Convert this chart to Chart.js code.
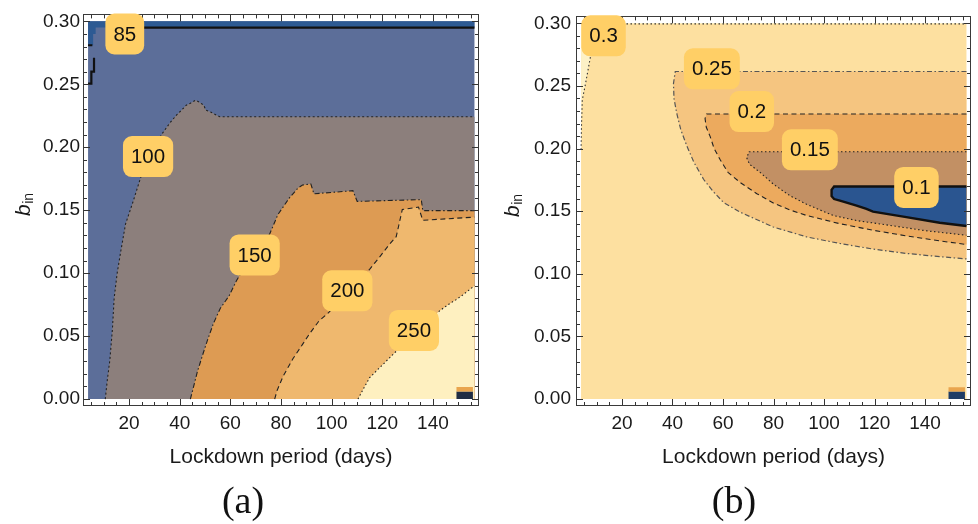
<!DOCTYPE html>
<html>
<head>
<meta charset="utf-8">
<script src="https://cdn.jsdelivr.net/npm/chart.js@4.4.1/dist/chart.umd.min.js"></script>
<style>
  body { margin: 0; background: #fff; }
  #wrap { position: relative; width: 978px; height: 524px; overflow: hidden; }
  canvas { position: absolute; top: 0; }
  .cap { position: absolute; top: 478px; width: 120px; height: 46px; line-height: 46px;
         text-align: center; font: 38px 'Liberation Serif', serif; color: #111; }
</style>
</head>
<body>
<div id="wrap">
  <canvas id="chartA" width="489" height="524" style="left:0"></canvas>
  <canvas id="chartB" width="489" height="524" style="left:489px"></canvas>
  <div class="cap" style="left:183px">(a)</div>
  <div class="cap" style="left:674px">(b)</div>
</div>
<script>
// axes shared by both panels
const xTicks = [20, 40, 60, 80, 100, 120, 140];
const yTicks = [0, 0.05, 0.10, 0.15, 0.20, 0.25, 0.30];
const xDomain = [3.8, 156.4];   // days covered by the grid
const yDomain = [0, 0.30];      // b_in covered by the grid

// tiny unlabelled patch in the bottom right corner of both panels
const cornerDarkX = [149.3, 155.8, 155.8, 149.3];
const cornerDarkY = [0, 0, 0.006, 0.006];
const cornerOrangeX = [149.3, 155.8, 155.8, 149.3];
const cornerOrangeY = [0.006, 0.006, 0.0095, 0.0095];

// (a) contour levels
const a85RegionX = [3.8, 156.4, 156.4, 6.8, 6.8, 5.8, 5.8, 3.8];
const a85RegionY = [0.30, 0.30, 0.295, 0.295, 0.29, 0.29, 0.281, 0.281];
const a85LineX = [12, 156.4];
const a85LineY = [0.295, 0.295];
const a85StepX = [3.8, 5.5, null, 6.15, 6.15, 5.1, 5.1, 3.8];
const a85StepY = [0.281, 0.281, null, 0.271, 0.26, 0.26, 0.2505, 0.2505];
const a100X = [10.6, 11.4, 12.4, 13.4, 14.1, 15.3, 16.6, 18.6, 21.6, 24.9, 28, 31, 32.8, 36, 38.7, 40.5, 42.6, 44.2, 46.3, 47.6, 49.5, 50.3, 52.2, 54.5, 55.8, 156.4];
const a100Y = [0, 0.015, 0.031, 0.055, 0.08, 0.10, 0.116, 0.139, 0.157, 0.178, 0.19, 0.203, 0.21, 0.219, 0.2255, 0.229, 0.2334, 0.235, 0.2374, 0.236, 0.2334, 0.2295, 0.228, 0.2255, 0.2242, 0.2242];
const a150X = [44.2, 45.5, 47, 49.2, 51, 53.3, 56, 59.5, 62.4, 64.5, 67.5, 71, 75.5, 78.8, 83.4, 86.7, 88.5, 91.8, 93, 108.4, 110.1, 135.4, 136, 156.4];
const a150Y = [0, 0.01, 0.022, 0.036, 0.047, 0.06, 0.072, 0.082, 0.094, 0.101, 0.11, 0.12, 0.131, 0.1466, 0.16, 0.1676, 0.170, 0.1708, 0.163, 0.1655, 0.157, 0.1584, 0.1497, 0.1497];
const a200X = [77.5, 78.5, 80.8, 84.7, 88.7, 91.3, 95, 99, 107, 115, 119, 122.9, 125.5, 126.3, 127.9, 134.3, 136, 156.4];
const a200Y = [0, 0.007, 0.018, 0.032, 0.044, 0.052, 0.062, 0.069, 0.087, 0.103, 0.113, 0.123, 0.129, 0.136, 0.1505, 0.1525, 0.142, 0.1445];
const a250X = [110.4, 112.5, 115, 118, 121, 125.5, 130, 135, 142.6, 146, 149.2, 152, 156.4];
const a250Y = [0, 0.008, 0.017, 0.023, 0.029, 0.038, 0.047, 0.057, 0.070, 0.075, 0.079, 0.083, 0.090];
const aLabels = ['85', '100', '150', '200', '250'];
const aLabelX = [18.3, 27.5, 69.6, 106.2, 132.5];
const aLabelY = [0.29, 0.1926, 0.1145, 0.086, 0.0545];

// (b) contour levels
const b30X = [3.8, 4.0, 4.3, 5.5, 7.5, 10, 13, 156.4];
const b30Y = [0.199, 0.22, 0.239, 0.251, 0.273, 0.29, 0.2995, 0.2995];
const b25X = [156.4, 41.1, 40.4, 40.6, 41.7, 43.3, 45.7, 48.5, 52.3, 56, 60.2, 66.8, 79.9, 93.1, 106.3, 119.4, 132.6, 145.8, 156.4];
const b25Y = [0.2615, 0.2615, 0.252, 0.24, 0.228, 0.215, 0.202, 0.189, 0.1755, 0.166, 0.157, 0.1492, 0.1374, 0.1295, 0.1242, 0.1198, 0.1163, 0.1137, 0.1119];
const b20X = [156.4, 53.5, 52.9, 53.4, 54.9, 56.5, 58.9, 62, 66.8, 73.4, 79.9, 86.5, 93.1, 106.3, 119.4, 132.6, 145.8, 156.4];
const b20Y = [0.2276, 0.2276, 0.224, 0.217, 0.2097, 0.20, 0.191, 0.181, 0.1729, 0.164, 0.1566, 0.151, 0.1466, 0.14, 0.1348, 0.1303, 0.1263, 0.1234];
const b15X = [156.4, 70.3, 69.4, 70.5, 74.7, 80, 86.5, 93.1, 103.6, 113, 126, 140, 156.4];
const b15Y = [0.1975, 0.1975, 0.1926, 0.1875, 0.181, 0.1715, 0.1624, 0.1555, 0.1466, 0.1425, 0.1387, 0.1345, 0.1308];
const b10X = [156.4, 104, 103, 103, 104, 106.3, 112.9, 116.8, 119.4, 132.6, 145.8, 156.4];
const b10Y = [0.1697, 0.1697, 0.167, 0.162, 0.1597, 0.1584, 0.1545, 0.1518, 0.1497, 0.1453, 0.1408, 0.1382];
const bLabels = ['0.3', '0.25', '0.2', '0.15', '0.1'];
const bLabelX = [12.7, 55.6, 71.4, 94.4, 136.6];
const bLabelY = [0.29, 0.2637, 0.2295, 0.199, 0.169];

const pts = (xs, ys) => xs.map((x, i) => ({x: x, y: ys[i]}));
const rect = () => pts([xDomain[0], xDomain[1], xDomain[1], xDomain[0]], [yDomain[0], yDomain[0], yDomain[1], yDomain[1]]);
// region to the lower right of a level line that starts on the bottom edge
const lowerRight = (xs, ys) => pts(xs, ys).concat([{x: xDomain[1], y: yDomain[0]}]);

const region = (data, color) => ({data, fill: 'shape', backgroundColor: color, borderWidth: 0, pointRadius: 0});
const contour = (data, color, width, dash) => ({data, fill: false, borderColor: color, borderWidth: width,
  borderDash: dash, pointRadius: 0, spanGaps: false});

const tickFont = {family: "'Liberation Sans', Arial, sans-serif", size: 19};
const titleFont = {family: "'Liberation Sans', Arial, sans-serif", size: 21};

const frameTicks = {
  id: 'frameTicks',
  afterDatasetsDraw(chart) {
    const {ctx, chartArea: a, scales: {x, y}} = chart;
    ctx.save();
    ctx.strokeStyle = '#333';
    ctx.lineWidth = 1;
    ctx.beginPath();
    for (let v = 5; v <= 155; v += 5) {
      const px = Math.round(x.getPixelForValue(v)) + 0.5;
      const len = v % 20 === 0 ? 7 : 4;
      ctx.moveTo(px, a.bottom); ctx.lineTo(px, a.bottom - len);
      ctx.moveTo(px, a.top); ctx.lineTo(px, a.top + len);
    }
    for (let k = 0; k <= 30; k++) {
      const py = Math.round(y.getPixelForValue(k / 100)) + 0.5;
      const len = k % 5 === 0 ? 7 : 4;
      ctx.moveTo(a.left, py); ctx.lineTo(a.left + len, py);
      ctx.moveTo(a.right, py); ctx.lineTo(a.right - len, py);
    }
    ctx.stroke();
    ctx.strokeStyle = '#3a3a3a';
    ctx.strokeRect(Math.round(a.left) + 0.5, Math.round(a.top) + 0.5,
      Math.round(a.right - a.left) - 1, Math.round(a.bottom - a.top) - 1);
    ctx.restore();
  }
};

const yTitle = {
  id: 'yTitle',
  afterDraw(chart) {
    const {ctx, chartArea: a} = chart;
    ctx.save();
    ctx.translate(30, (a.top + a.bottom) / 2 - 5.5);
    ctx.rotate(-Math.PI / 2);
    ctx.fillStyle = '#1a1a1a';
    ctx.textBaseline = 'alphabetic';
    ctx.font = "italic 21px 'Liberation Sans', Arial, sans-serif";
    const wb = ctx.measureText('b').width;
    ctx.font = "14px 'Liberation Sans', Arial, sans-serif";
    const wi = ctx.measureText('in').width;
    const start = -(wb + wi) / 2;
    ctx.font = "italic 21px 'Liberation Sans', Arial, sans-serif";
    ctx.fillText('b', start, 0);
    ctx.font = "14px 'Liberation Sans', Arial, sans-serif";
    ctx.fillText('in', start + wb + 0.5, 3);
    ctx.restore();
  }
};

function labelPlugin(texts, xs, ys) {
  return {
    id: 'contourLabels',
    afterDatasetsDraw(chart) {
      const {ctx, scales: {x, y}} = chart;
      ctx.save();
      ctx.font = "20.5px 'Liberation Sans', Arial, sans-serif";
      ctx.textAlign = 'center';
      ctx.textBaseline = 'middle';
      texts.forEach((t, i) => {
        const cx = x.getPixelForValue(xs[i]);
        const cy = y.getPixelForValue(ys[i]);
        const w = ctx.measureText(t).width + 16;
        const h = 41;
        ctx.fillStyle = '#ffcf66';
        ctx.beginPath();
        ctx.roundRect(cx - w / 2, cy - h / 2, w, h, 9);
        ctx.fill();
        ctx.fillStyle = '#111';
        ctx.fillText(t, cx, cy + 1);
      });
      ctx.restore();
    }
  };
}

function makeChart(id, datasets, labels, axisWidth, padRight, tickPad) {
  datasets.forEach((d, i) => { d.order = datasets.length - i; });
  return new Chart(document.getElementById(id), {
    type: 'line',
    data: {datasets},
    options: {
      responsive: false,
      animation: false,
      events: [],
      layout: {padding: {left: 0, right: padRight, top: 12, bottom: 0}, autoPadding: false},
      plugins: {legend: {display: false}, tooltip: {enabled: false}},
      scales: {
        x: {
          type: 'linear', min: 1.8, max: 158.2,
          afterBuildTicks: s => { s.ticks = xTicks.map(v => ({value: v})); },
          afterFit: s => { s.height = 118; },
          grid: {display: false, drawTicks: false}, border: {display: false},
          ticks: {font: tickFont, color: '#1a1a1a', padding: 6, maxRotation: 0},
          title: {display: true, text: 'Lockdown period (days)', font: titleFont, color: '#1a1a1a',
                  padding: {top: 0, bottom: 54}}
        },
        y: {
          type: 'linear', min: -0.0055, max: 0.3055,
          afterBuildTicks: s => { s.ticks = yTicks.map(v => ({value: v})); },
          afterFit: s => { s.width = axisWidth; },
          grid: {display: false, drawTicks: false}, border: {display: false},
          ticks: {font: tickFont, color: '#1a1a1a', padding: tickPad, callback: v => v.toFixed(2)}
        }
      }
    },
    plugins: [frameTicks, labels, yTitle]
  });
}

// panel (a)
makeChart('chartA', [
  region(rect(), '#5c6e99'),
  region(lowerRight(a100X, a100Y), '#8c7f7c'),
  region(lowerRight(a150X, a150Y), '#dd9b53'),
  region(lowerRight(a200X, a200Y), '#efb86e'),
  region(lowerRight(a250X, a250Y), '#fef0c0'),
  region(pts(a85RegionX, a85RegionY), '#2d5a93'),
  region(pts(cornerDarkX, cornerDarkY), '#1f2c44'),
  region(pts(cornerOrangeX, cornerOrangeY), '#e9a54e'),
  contour(pts(a100X, a100Y), '#222', 1.1, [2, 2.5]),
  contour(pts(a150X, a150Y), '#222', 1.1, [5, 2.5, 1.5, 2.5]),
  contour(pts(a200X, a200Y), '#222', 1.1, [5, 3.5]),
  contour(pts(a250X, a250Y), '#222', 1.1, [1.5, 2.5]),
  contour(pts(a85LineX, a85LineY), '#111', 2.2, []),
  contour(pts(a85StepX, a85StepY), '#111', 2.2, [])
], labelPlugin(aLabels, aLabelX, aLabelY), 83, 10, 3);

// panel (b)
makeChart('chartB', [
  region(rect(), '#fde0a0'),
  region(pts(b30X, b30Y).concat([{x: xDomain[1], y: yDomain[1]}, {x: xDomain[0], y: yDomain[1]}]), '#fdf1c6'),
  region(pts(b25X, b25Y), '#f5c580'),
  region(pts(b20X, b20Y), '#ecaa5e'),
  region(pts(b15X, b15Y), '#c29064'),
  region(pts(b10X, b10Y), '#2a5590'),
  region(pts(cornerDarkX, cornerDarkY), '#1f3c66'),
  region(pts(cornerOrangeX, cornerOrangeY), '#e9a54e'),
  contour(pts(b30X, b30Y), '#333', 1.1, [1.5, 2.5]),
  contour(pts(b25X, b25Y), '#555', 1.2, [5, 2.5, 1.5, 2.5]),
  contour(pts(b20X, b20Y), '#222', 1.1, [5, 3.5]),
  contour(pts(b15X, b15Y), '#222', 1.1, [1.5, 2.5]),
  contour(pts(b10X, b10Y), '#111', 2.4, [])
], labelPlugin(bLabels, bLabelX, bLabelY), 87, 7, 5);
</script>
</body>
</html>
